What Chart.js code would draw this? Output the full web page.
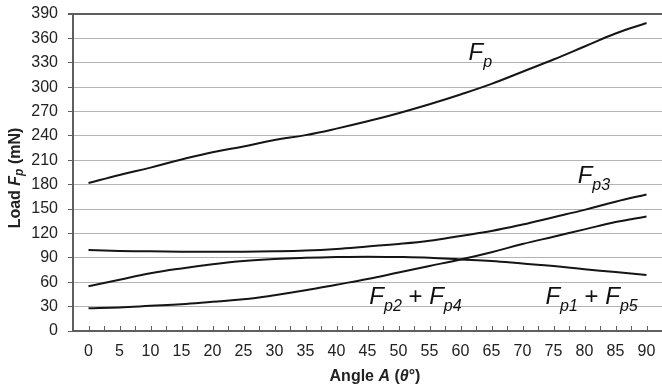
<!DOCTYPE html>
<html>
<head>
<meta charset="utf-8">
<script src="https://cdn.jsdelivr.net/npm/chart.js@4.4.1/dist/chart.umd.min.js"></script>
<style>
  html, body { margin: 0; padding: 0; background: #fff; }
</style>
</head>
<body>
<canvas id="chart" width="662" height="392"></canvas>
<script>
const angles = [0, 5, 10, 15, 20, 25, 30, 35, 40, 45, 50, 55, 60, 65, 70, 75, 80, 85, 90];
const fp     = [182, 192, 201, 211, 220, 227, 235, 241, 249, 258, 268, 279, 291, 304, 319, 334, 350, 366, 379];
const fp3    = [99.5, 98.5, 98, 97.5, 97.5, 97.5, 98, 99, 101, 104, 107, 111, 117, 123, 131, 140, 149, 159, 168];
const fp2fp4 = [55, 63, 71, 77, 82, 86, 88.5, 90, 91, 91.5, 91, 90, 88, 86, 83, 80, 76, 72.5, 69];
const fp1fp5 = [28, 29, 31, 33, 36, 39, 44, 50, 57, 64, 72, 80, 88, 97, 107, 116, 125, 134, 141];

const yMin = 0, yMax = 390, yStep = 30;

// text next to the curves, [text, "main" | "sub" | "plain"]
const curveNames = [
  { at: [61.3, 333], parts: [["F", "main"], ["p", "sub"]] },
  { at: [78.9, 182], parts: [["F", "main"], ["p3", "sub"]] },
  { at: [45.3, 33], parts: [["F", "main"], ["p2", "sub"], [" + ", "plain"], ["F", "main"], ["p4", "sub"]] },
  { at: [73.7, 33], parts: [["F", "main"], ["p1", "sub"], [" + ", "plain"], ["F", "main"], ["p5", "sub"]] },
];

const cline = "#151515";
const cgrid = "#b4b4b4";
const caxis = "#5e5e5e";
const FONT = '"Liberation Sans", Arial, sans-serif';

function series(label, values) {
  return {
    label: label,
    data: angles.map((a, i) => ({ x: a, y: values[i] })),
    borderColor: cline,
    borderWidth: 2,
    pointRadius: 0,
    tension: 0.4,
    fill: false,
  };
}

function drawRuns(ctx, runs, x, y) {
  runs.forEach(([txt, font, dy]) => {
    ctx.font = font;
    ctx.fillText(txt, x, y + dy);
    x += ctx.measureText(txt).width;
  });
}
function runsWidth(ctx, runs) {
  let w = 0;
  runs.forEach(([txt, font]) => { ctx.font = font; w += ctx.measureText(txt).width; });
  return w;
}

const extras = {
  id: "extras",
  afterDraw(chart) {
    const { ctx, chartArea, scales: { x, y } } = chart;
    ctx.save();

    // inner tick marks on the x axis
    ctx.strokeStyle = caxis;
    ctx.lineWidth = 1;
    x.ticks.forEach(t => {
      if (t.value < 0 || t.value > 90) return;
      const px = Math.round(x.getPixelForValue(t.value)) + 0.5;
      ctx.beginPath();
      ctx.moveTo(px, chartArea.bottom);
      ctx.lineTo(px, chartArea.bottom - 5);
      ctx.stroke();
    });

    // curve names
    ctx.fillStyle = "#111";
    ctx.textBaseline = "alphabetic";
    curveNames.forEach(n => {
      const runs = n.parts.map(([t, k]) => {
        if (k === "sub") return [t, "italic 16px " + FONT, 7];
        if (k === "plain") return [t, "24px " + FONT, 0];
        return [t, "italic 24px " + FONT, 0];
      });
      drawRuns(ctx, runs, x.getPixelForValue(n.at[0]), y.getPixelForValue(n.at[1]));
    });

    // axis titles
    ctx.fillStyle = "#222";
    ctx.textBaseline = "middle";
    const b = "bold 16px " + FONT, bi = "italic bold 16px " + FONT;
    const xt = [["Angle ", b, 0], ["A", bi, 0], [" (", b, 0], ["θ", bi, 0], ["°)", b, 0]];
    drawRuns(ctx, xt, 375 - runsWidth(ctx, xt) / 2, 377);

    const yt = [["Load ", b, 0], ["F", bi, 0], ["p", "italic bold 12px " + FONT, 4], [" (mN)", b, 0]];
    ctx.translate(16, 178);
    ctx.rotate(-Math.PI / 2);
    drawRuns(ctx, yt, -runsWidth(ctx, yt) / 2, 0);
    ctx.restore();
  }
};

new Chart(document.getElementById("chart"), {
  type: "line",
  data: {
    datasets: [
      series("Fp", fp),
      series("Fp3", fp3),
      series("Fp2 + Fp4", fp2fp4),
      series("Fp1 + Fp5", fp1fp5),
    ]
  },
  options: {
    responsive: false,
    animation: false,
    layout: { padding: { top: 14, right: 0, left: 0, bottom: 0 } },
    plugins: { legend: { display: false }, tooltip: { enabled: false } },
    scales: {
      x: {
        type: "linear",
        min: -2.5,
        max: 92.5,
        afterFit: s => { s.height = 61; s.paddingRight = 0; s.paddingLeft = 0; },
        border: { color: caxis, width: 2 },
        grid: { display: false, drawTicks: false },
        ticks: {
          stepSize: 2.5,
          autoSkip: false,
          maxRotation: 0,
          padding: 11,
          color: "#222",
          font: { family: FONT, size: 16 },
          callback: v => (v >= 0 && v <= 90 && v % 5 === 0) ? String(v) : "",
        },
      },
      y: {
        min: yMin,
        max: yMax,
        afterFit: s => { s.width = 73; s.paddingTop = 0; s.paddingBottom = 0; },
        border: { color: caxis, width: 2 },
        grid: {
          color: c => (c.tick && c.tick.value === yMax) ? caxis : cgrid,
          lineWidth: c => (c.tick && c.tick.value === yMax) ? 2 : 1,
          tickLength: 5,
          tickColor: caxis,
        },
        ticks: {
          stepSize: yStep,
          padding: 10,
          color: "#222",
          font: { family: FONT, size: 16 },
        },
      },
    },
  },
  plugins: [extras],
});
</script>
</body>
</html>
